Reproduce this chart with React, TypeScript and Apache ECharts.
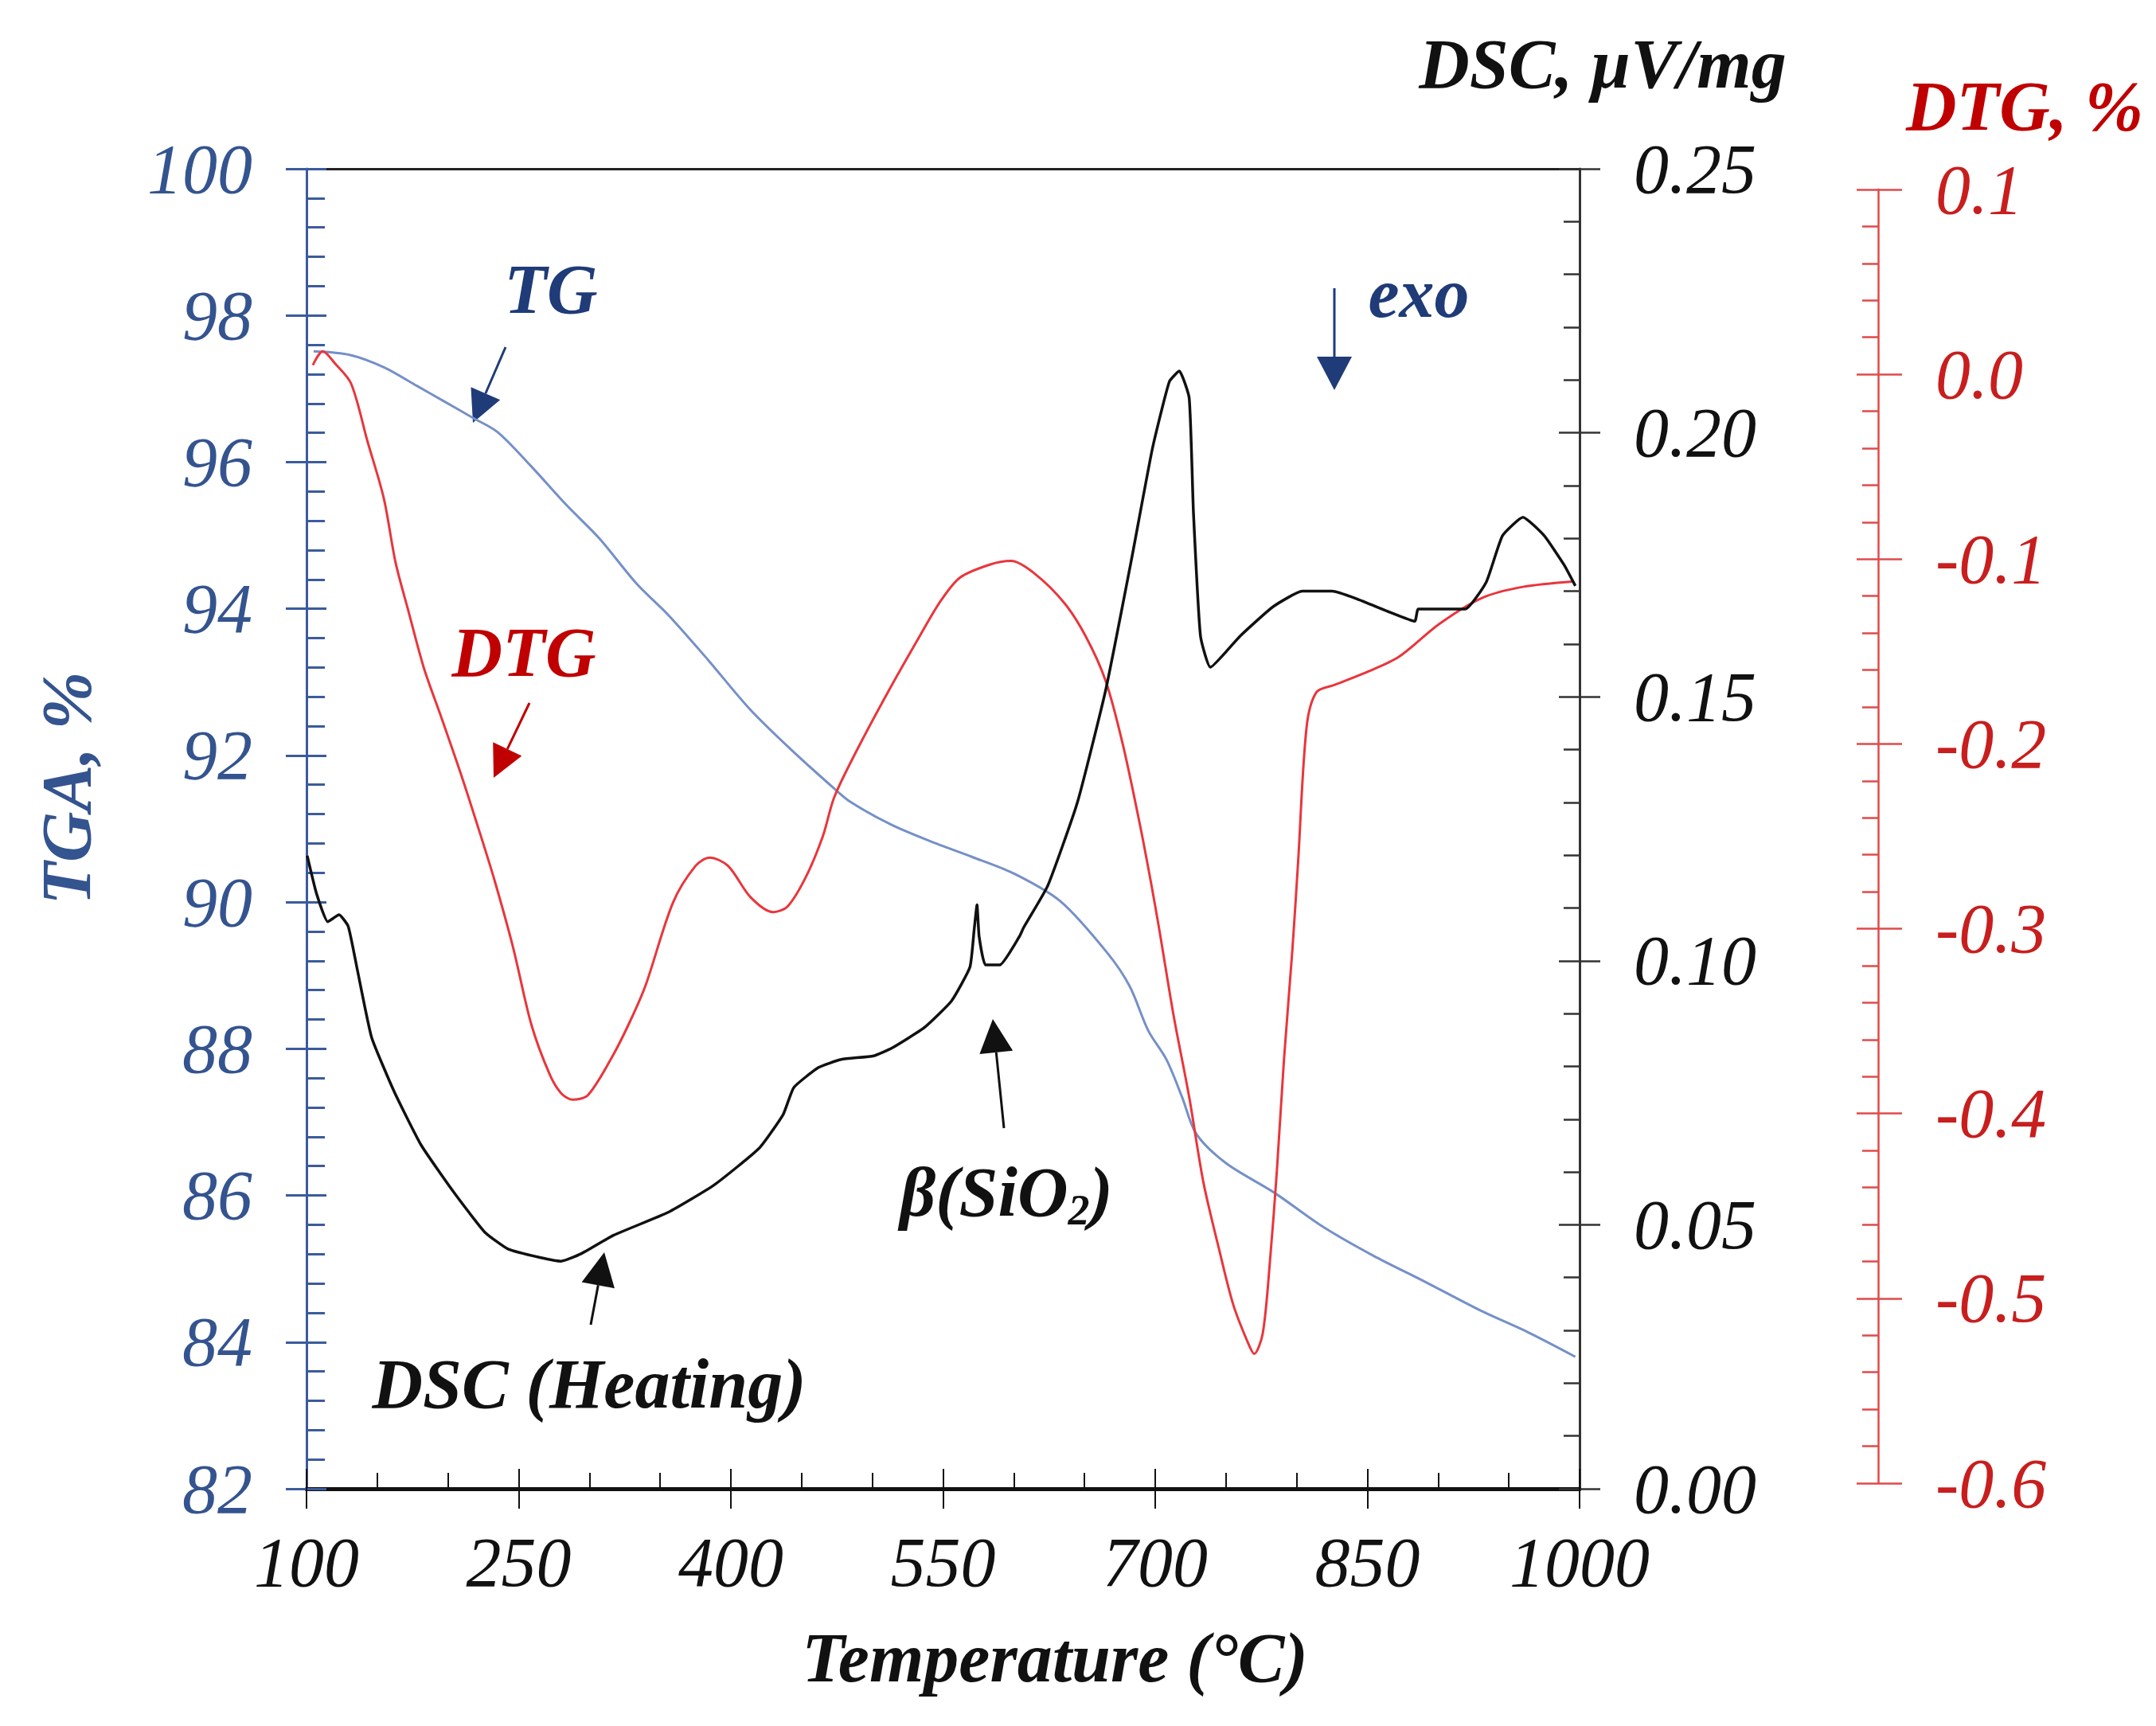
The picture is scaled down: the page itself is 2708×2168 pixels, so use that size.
import { useEffect, useRef } from 'react';
import * as echarts from 'echarts';

// TG curve (mass %, left axis)
const tgTemp = [105, 131, 155, 178, 198, 218, 235, 258, 284, 307, 333, 356, 384, 413, 442, 473, 485, 514, 545, 570, 600, 633, 666, 682, 695, 708, 719, 729, 750, 784, 818, 854, 890, 930, 964, 997];
const tgMass = [97.51, 97.46, 97.29, 97.04, 96.82, 96.6, 96.41, 95.96, 95.41, 94.96, 94.35, 93.91, 93.3, 92.64, 92.09, 91.55, 91.36, 91.05, 90.8, 90.62, 90.39, 90.01, 89.31, 88.85, 88.25, 87.85, 87.34, 86.84, 86.44, 86.04, 85.58, 85.18, 84.83, 84.43, 84.13, 83.8];

// DSC curve (µV/mg, right axis)
const dscTemp = [100.5, 107, 115, 123, 129.5, 136, 146, 162, 181, 204, 226, 242.5, 265, 280, 294, 317, 356, 388, 420, 437, 444.5, 462, 478, 501, 514, 537, 556, 569, 572, 574, 575.5, 580, 590, 604, 607, 624, 645, 665, 683, 698, 710, 717, 724, 727, 732, 739, 760, 783, 804, 825, 842, 866, 883.5, 886, 919, 934, 945.5, 960, 975, 989, 997];
const dscSignal = [0.1199, 0.1128, 0.1074, 0.1087, 0.1065, 0.0982, 0.0855, 0.0752, 0.0651, 0.0562, 0.0486, 0.0454, 0.0438, 0.0431, 0.0445, 0.048, 0.0524, 0.0575, 0.0645, 0.0709, 0.076, 0.0798, 0.0813, 0.082, 0.0835, 0.0874, 0.0924, 0.0988, 0.1059, 0.1106, 0.1046, 0.0992, 0.0992, 0.1046, 0.1063, 0.1142, 0.13, 0.1513, 0.1757, 0.197, 0.2097, 0.2117, 0.2066, 0.185, 0.1615, 0.1556, 0.1615, 0.167, 0.17, 0.17, 0.1686, 0.166, 0.1643, 0.1666, 0.1666, 0.1717, 0.1805, 0.184, 0.1805, 0.175, 0.171];

// DTG curve (%/°C, far right axis)
const dtgTemp = [104.5, 111.5, 120, 131.5, 143, 154.6, 163, 172, 183, 195, 209, 222.5, 233, 246, 259, 272, 280, 288, 299, 317, 330, 340, 359, 375, 385, 398, 414, 430, 440, 453, 465, 473, 488, 511, 534, 548, 562, 583, 598, 615, 636, 651, 665, 677, 689, 697, 703, 713, 724, 734, 745, 755, 765, 770, 776, 781, 786, 791, 797, 801, 807, 814, 827, 850, 872, 901, 931, 960, 996];
const dtgRate = [0.005, 0.0125, 0.006, -0.005, -0.036, -0.067, -0.102, -0.128, -0.159, -0.185, -0.216, -0.248, -0.274, -0.31, -0.352, -0.379, -0.389, -0.3925, -0.39, -0.368, -0.348, -0.33, -0.286, -0.266, -0.2615, -0.266, -0.283, -0.291, -0.288, -0.272, -0.25, -0.229, -0.205, -0.172, -0.141, -0.123, -0.11, -0.103, -0.101, -0.108, -0.124, -0.142, -0.166, -0.2, -0.243, -0.275, -0.301, -0.347, -0.391, -0.437, -0.473, -0.503, -0.523, -0.53, -0.519, -0.481, -0.431, -0.371, -0.311, -0.264, -0.191, -0.172, -0.168, -0.161, -0.153, -0.135, -0.121, -0.115, -0.112];

// axis ranges: [min, max, interval]
const tempRange = [100, 1000, 150];
const tgaRange = [82, 100, 2];
const dscRange = [0, 0.25, 0.05];
const dtgRange = [-0.6, 0.1, 0.1];

const SERIF = "'Liberation Serif', 'Times New Roman', serif";
const NAVY = '#1f3b78';
const AXIS_BLUE = '#3b5b9c';
const LABEL_BLUE = '#34548f';
const RED = '#c81e1e';
const AXIS_RED = '#e04a4a';
const BLACK = '#111111';

function arrow(x1: number, y1: number, x2: number, y2: number, color: string, head = 40, width = 40) {
  const dx = x2 - x1;
  const dy = y2 - y1;
  const len = Math.hypot(dx, dy);
  const ux = dx / len;
  const uy = dy / len;
  const bx = x2 - ux * head;
  const by = y2 - uy * head;
  const nx = -uy * width / 2;
  const ny = ux * width / 2;
  return [
    { type: 'line', shape: { x1, y1, x2: bx, y2: by }, style: { stroke: color, lineWidth: 3 } },
    {
      type: 'polygon',
      shape: { points: [[x2, y2], [bx + nx, by + ny], [bx - nx, by - ny]] },
      style: { fill: color },
    },
  ];
}

function label(text: string, x: number, y: number, color: string, extra: any = {}) {
  return {
    type: 'text',
    x,
    y,
    ...extra,
    style: {
      text,
      fill: color,
      fontFamily: SERIF,
      fontStyle: 'italic',
      fontWeight: 'bold',
      fontSize: 88,
      align: 'center',
      verticalAlign: 'middle',
    },
  };
}

const tickLabel = (color: string) => ({
  fontFamily: SERIF,
  fontStyle: 'italic',
  fontSize: 88,
  color,
});

export default function App() {
  const chartRef = useRef<HTMLDivElement>(null);

  useEffect(() => {
    if (!chartRef.current) return;
    const chart = echarts.init(chartRef.current, null, { renderer: 'svg' });

    const option: any = {
      animation: false,
      backgroundColor: '#ffffff',
      grid: [
        { left: 385, right: 724, top: 212, bottom: 298 },
        { left: 385, right: 724, top: 238, bottom: 305 },
      ],
      xAxis: [
        {
          type: 'value',
          gridIndex: 0,
          position: 'bottom',
          min: tempRange[0],
          max: tempRange[1],
          interval: tempRange[2],
          axisLine: { onZero: false, lineStyle: { color: BLACK, width: 5 } },
          axisTick: { length: 25, lineStyle: { color: BLACK, width: 2 } },
          axisLabel: { ...tickLabel(BLACK), margin: 48, formatter: (v: number) => String(v) },
          splitLine: { show: false },
        },
        {
          type: 'value',
          gridIndex: 0,
          position: 'bottom',
          min: tempRange[0],
          max: tempRange[1],
          interval: tempRange[2],
          axisLine: { show: false, onZero: false },
          axisTick: { inside: true, length: 25, lineStyle: { color: BLACK, width: 2 } },
          minorTick: { show: true, splitNumber: 3, length: 20, lineStyle: { color: BLACK, width: 2 } },
          axisLabel: { show: false },
          splitLine: { show: false },
        },
        {
          type: 'value',
          gridIndex: 0,
          position: 'top',
          min: tempRange[0],
          max: tempRange[1],
          axisLine: { onZero: false, lineStyle: { color: '#222', width: 3 } },
          axisTick: { show: false },
          axisLabel: { show: false },
          splitLine: { show: false },
        },
        {
          type: 'value',
          gridIndex: 1,
          min: tempRange[0],
          max: tempRange[1],
          show: false,
        },
      ],
      yAxis: [
        {
          type: 'value',
          gridIndex: 0,
          position: 'left',
          min: tgaRange[0],
          max: tgaRange[1],
          interval: tgaRange[2],
          axisLine: { show: true, onZero: false, lineStyle: { color: AXIS_BLUE, width: 3 } },
          axisTick: { length: 26, lineStyle: { color: AXIS_BLUE, width: 3 } },
          axisLabel: { ...tickLabel(LABEL_BLUE), margin: 68 },
          splitLine: { show: false },
        },
        {
          type: 'value',
          gridIndex: 0,
          position: 'left',
          min: tgaRange[0],
          max: tgaRange[1],
          interval: tgaRange[2],
          axisLine: { show: false, onZero: false },
          axisTick: { inside: true, length: 25, lineStyle: { color: AXIS_BLUE, width: 3 } },
          minorTick: { show: true, splitNumber: 5, length: 23, lineStyle: { color: AXIS_BLUE, width: 3 } },
          axisLabel: { show: false },
          splitLine: { show: false },
        },
        {
          type: 'value',
          gridIndex: 0,
          position: 'right',
          min: dscRange[0],
          max: dscRange[1],
          interval: dscRange[2],
          axisLine: { show: true, onZero: false, lineStyle: { color: '#333', width: 3 } },
          axisTick: { length: 26, lineStyle: { color: '#333', width: 2.5 } },
          axisLabel: { ...tickLabel(BLACK), margin: 68, formatter: (v: number) => v.toFixed(2) },
          splitLine: { show: false },
        },
        {
          type: 'value',
          gridIndex: 0,
          position: 'right',
          min: dscRange[0],
          max: dscRange[1],
          interval: dscRange[2],
          axisLine: { show: false, onZero: false },
          axisTick: { inside: true, length: 26, lineStyle: { color: '#333', width: 2.5 } },
          minorTick: { show: true, splitNumber: 5, length: 20, lineStyle: { color: '#333', width: 2.5 } },
          axisLabel: { show: false },
          splitLine: { show: false },
        },
        {
          type: 'value',
          gridIndex: 1,
          position: 'right',
          offset: 375,
          min: dtgRange[0],
          max: dtgRange[1],
          interval: dtgRange[2],
          axisLine: { show: true, onZero: false, lineStyle: { color: AXIS_RED, width: 2.5 } },
          axisTick: { length: 30, lineStyle: { color: AXIS_RED, width: 2.5 } },
          axisLabel: {
            ...tickLabel(RED),
            margin: 72,
            formatter: (v: number) => (Math.abs(v) < 1e-9 ? '0.0' : v.toFixed(1)),
          },
          splitLine: { show: false },
        },
        {
          type: 'value',
          gridIndex: 1,
          position: 'right',
          offset: 375,
          min: dtgRange[0],
          max: dtgRange[1],
          interval: dtgRange[2],
          axisLine: { show: false, onZero: false },
          axisTick: { inside: true, length: 27, lineStyle: { color: AXIS_RED, width: 2.5 } },
          minorTick: { show: true, splitNumber: 5, length: 20, lineStyle: { color: AXIS_RED, width: 2.5 } },
          axisLabel: { show: false },
          splitLine: { show: false },
        },
      ],
      series: [
        {
          name: 'TG',
          type: 'line',
          xAxisIndex: 0,
          yAxisIndex: 0,
          showSymbol: false,
          smooth: 0.3,
          lineStyle: { color: '#7590c8', width: 3 },
          data: tgTemp.map((t, i) => [t, tgMass[i]]),
        },
        {
          name: 'DTG',
          type: 'line',
          xAxisIndex: 3,
          yAxisIndex: 4,
          showSymbol: false,
          smooth: 0.3,
          lineStyle: { color: '#e8363c', width: 3 },
          data: dtgTemp.map((t, i) => [t, dtgRate[i]]),
        },
        {
          name: 'DSC',
          type: 'line',
          xAxisIndex: 0,
          yAxisIndex: 2,
          showSymbol: false,
          smooth: 0.15,
          lineStyle: { color: BLACK, width: 3.5 },
          data: dscTemp.map((t, i) => [t, dscSignal[i]]),
        },
      ],
      graphic: [
        label('DSC, µV/mg', 2013, 80, BLACK),
        label('DTG, %', 2543, 133, '#c00000'),
        label('TGA, %', 83, 990, LABEL_BLUE, { rotation: Math.PI / 2 }),
        label('Temperature (°C)', 1325, 2082, BLACK),
        label('TG', 692, 363, NAVY),
        label('DTG', 658, 819, '#c00000'),
        label('exo', 1782, 368, NAVY),
        label('DSC (Heating)', 740, 1738, BLACK),
        {
          type: 'text',
          x: 1264,
          y: 1497,
          style: {
            text: '{a|β(SiO}{s|2}{a|)}',
            fill: BLACK,
            align: 'center',
            verticalAlign: 'middle',
            rich: {
              a: { fontFamily: SERIF, fontStyle: 'italic', fontWeight: 'bold', fontSize: 88, lineHeight: 100 },
              s: { fontFamily: SERIF, fontStyle: 'italic', fontWeight: 'bold', fontSize: 54, lineHeight: 40, verticalAlign: 'bottom' },
            },
          },
        },
        ...arrow(635, 436, 594, 531, NAVY),
        ...arrow(665, 883, 620, 977, '#c00000'),
        ...arrow(1676, 362, 1676, 490, NAVY, 42, 44),
        ...arrow(742, 1664, 759, 1573, BLACK, 42, 42),
        ...arrow(1261, 1417, 1247, 1280, BLACK, 42, 42),
      ],
    };

    chart.setOption(option);
    return () => chart.dispose();
  }, []);

  return (
    <div
      ref={chartRef}
      style={{ position: 'fixed', left: 0, top: 0, width: 2708, height: 2168, background: '#fff' }}
    />
  );
}
